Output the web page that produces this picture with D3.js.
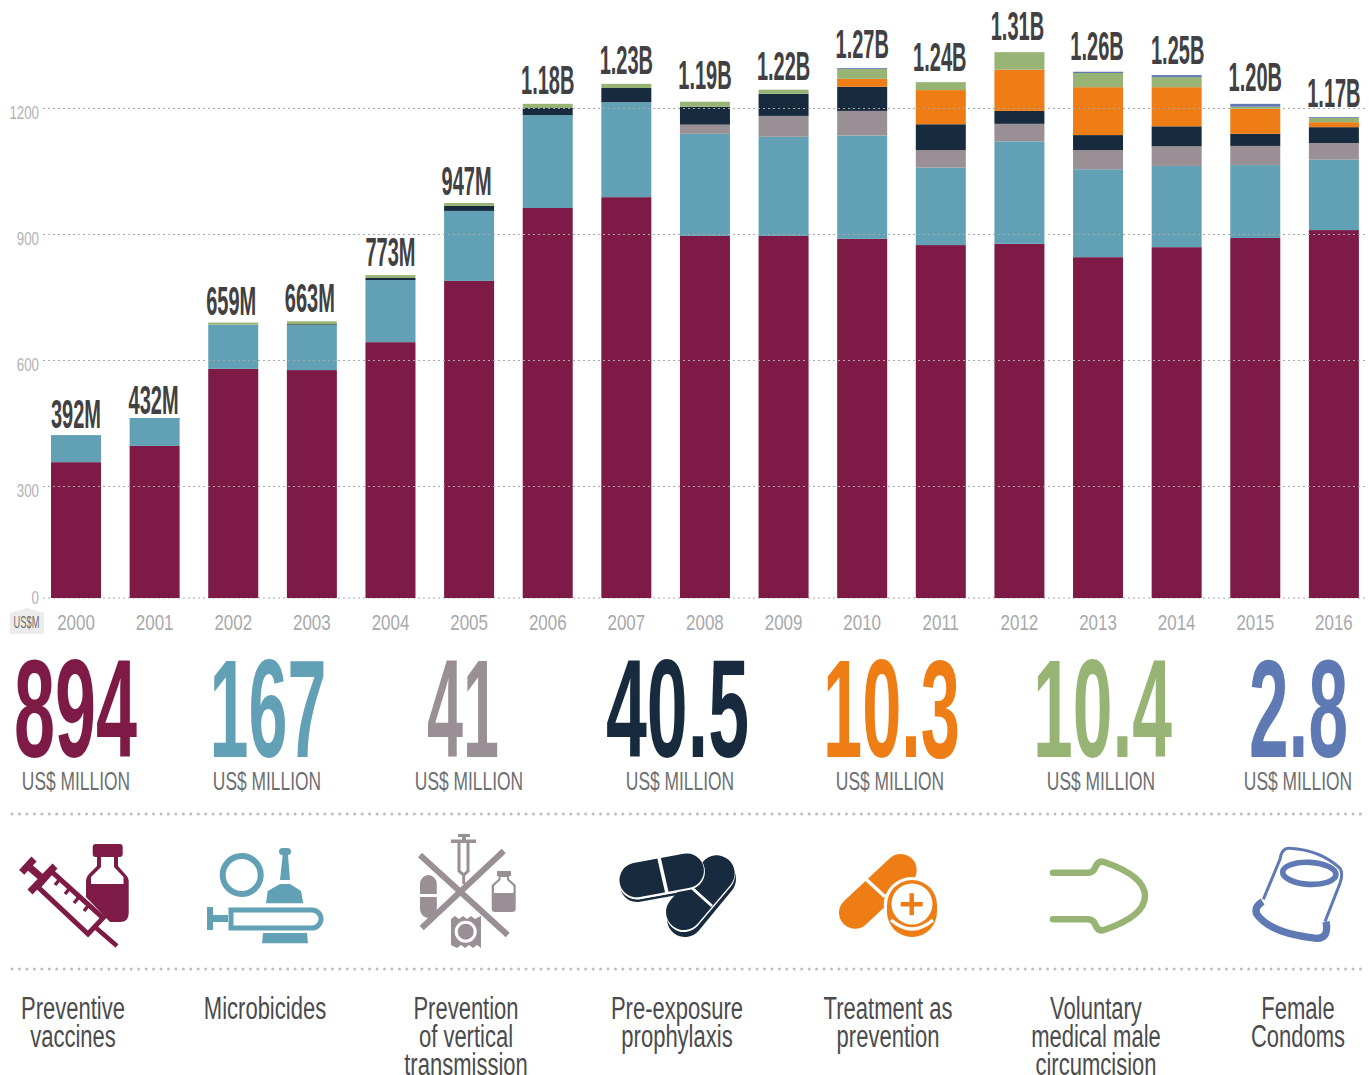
<!DOCTYPE html>
<html>
<head>
<meta charset="utf-8">
<script src="https://cdn.jsdelivr.net/npm/d3@7"></script>
<style>
  html, body { margin: 0; padding: 0; background: #fff; overflow: hidden; }
  svg { display: block; }
  text { font-family: "Liberation Sans Narrow", "Liberation Sans", sans-serif; }
</style>
</head>
<body>
<svg width="1369" height="1075"></svg>
<script>
const years = ['2000','2001','2002','2003','2004','2005','2006','2007','2008','2009','2010','2011','2012','2013','2014','2015','2016'];
const totalLabels = ['392M','432M','659M','663M','773M','947M','1.18B','1.23B','1.19B','1.22B','1.27B','1.24B','1.31B','1.26B','1.25B','1.20B','1.17B'];

// US$ million
const vaccines     = [326,365,550,547,614,761,936,962,869,869,862,847,850,818,842,864,883];
const microbicides = [65,67,106,108,149,168,223,228,245,238,248,186,246,211,195,175,169];
const vertical     = [0,0,0,0,0,0,0,0,22,50,59,42,42,46,47,46,40];
const prep         = [0,0,0,2,5,12,17,34,43,53,58,62,31,36,48,29,38];
const treatment    = [0,0,0,0,0,0,0,0,0,0,19,82,99,115,94,60,12];
const vmmc         = [0,0,5,7,7,7,10,10,12,10,24,19,42,34,24,5,10];
const condoms      = [0,0,0,0,0,0,0,0,0,0,2,0,0,3,5,7,2];

const gridTicks = [0,300,600,900,1200];
const amounts = ['894','167','41','40.5','10.3','10.4','2.8'];
const names = [
  ['Preventive','vaccines'],
  ['Microbicides'],
  ['Prevention','of vertical','transmission'],
  ['Pre-exposure','prophylaxis'],
  ['Treatment as','prevention'],
  ['Voluntary','medical male','circumcision'],
  ['Female','Condoms']
];

const PURPLE = '#7d1a45', BLUE = '#62a1b5', GREY = '#9a8f94', NAVY = '#182b3e',
      ORANGE = '#ee7d15', GREEN = '#98b474', INDIGO = '#5f79b5';
const colors = [PURPLE, BLUE, GREY, NAVY, ORANGE, GREEN, INDIGO];
const seriesKeys = ['vaccines','microbicides','vertical','prep','treatment','vmmc','condoms'];
const seriesValues = [vaccines, microbicides, vertical, prep, treatment, vmmc, condoms];

const svg = d3.select('svg');

// squeeze a text around its x, the fonts here are wider than the original.
// ratio may be a function (text node, index) for texts fitted to a given width
function condense(sel, ratio) {
  sel.each(function(d, i) {
    const t = d3.select(this);
    const r = typeof ratio === 'function' ? ratio(this, i) : ratio;
    const cx = +t.attr('x') || 0;
    t.attr('transform', `translate(${cx * (1 - r)},0) scale(${r},1)`);
  });
}

const rows = years.map((y, i) => {
  const row = {year: y};
  seriesKeys.forEach((k, j) => { row[k] = seriesValues[j][i]; });
  return row;
});
const stacked = d3.stack().keys(seriesKeys)(rows);

const x = d3.scaleBand().domain(years).range([36.7, 1373.2]).paddingInner(0.364).paddingOuter(0.182);
const y = d3.scaleLinear().domain([0, 1200]).range([598, 98]);
// the original's gridlines do not follow the bars: 0 sits closer to 300 than the rest
const gridY = d3.scaleLinear().domain([0, 300, 1200]).range([598, 486, 108]);

// zero line goes behind the bars
svg.append('line').attr('x1', 43).attr('x2', 1365).attr('y1', gridY(0)).attr('y2', gridY(0))
  .attr('stroke', '#a8a8a8').attr('stroke-dasharray', '2,3').attr('stroke-width', 1);

svg.append('g').selectAll('g')
  .data(stacked)
  .join('g')
  .attr('fill', (d, i) => colors[i])
  .selectAll('rect')
  .data(d => d)
  .join('rect')
  .attr('x', d => x(d.data.year))
  .attr('width', x.bandwidth())
  .attr('y', d => y(d[1]))
  .attr('height', d => y(d[0]) - y(d[1]));

// the other gridlines run over the bars
const grid = svg.append('g')
  .attr('transform', 'translate(43,0)')
  .call(d3.axisLeft(gridY).tickValues(gridTicks).tickSize(0).tickFormat(d3.format('d')));
grid.select('.domain').remove();
grid.selectAll('.tick').select('line')
  .attr('x2', d => d === 0 ? 0 : 1322)
  .attr('stroke', '#a8a8a8').attr('stroke-dasharray', '2,3');
grid.selectAll('.tick').select('text')
  .attr('x', -4)
  .attr('dy', d => d === 0 ? 5 : 10)
  .attr('fill', '#b0b2b4')
  .attr('font-size', 18.5)
  .call(condense, 0.72);

const xAxis = svg.append('g')
  .attr('transform', 'translate(0,609)')
  .call(d3.axisBottom(x).tickSize(0).tickPadding(0));
xAxis.select('.domain').remove();
xAxis.selectAll('text')
  .attr('y', 0).attr('dy', 21)
  .attr('fill', '#a7a9ac')
  .attr('font-size', 22)
  .call(condense, 0.77);

// US$M badge
svg.append('path').attr('d', 'M10,613 L27,608 L44,613 V634 H10 Z').attr('fill', '#ececec');
svg.append('text').text('US$M').attr('x', 26.5).attr('y', 628)
  .attr('text-anchor', 'middle').attr('font-size', 16).attr('fill', '#6d6e71')
  .call(condense, 0.58);

// totals above the bars, nudged by hand in the original
const labelLift = [7,4,8,9,9,8,10,10,13,10,10,11,12,12,11,13,10];
const labelNudge = [0,-1,-2,-2,0,-2.5,0,0,0,0,0,-1,-2,-1,1,0,0];
svg.append('g').selectAll('text')
  .data(totalLabels)
  .join('text')
  .text(d => d)
  .attr('x', (d, i) => x(years[i]) + x.bandwidth() / 2 + labelNudge[i])
  .attr('y', (d, i) => y(d3.sum(seriesValues, s => s[i])) - labelLift[i])
  .attr('text-anchor', 'middle')
  .attr('font-size', 40)
  .attr('font-weight', 'bold')
  .attr('fill', '#414042')
  .call(condense, 0.5);

// big figures
const amountX = [75.5, 268, 463, 677.5, 891.5, 1102.5, 1298.5];
const amountW = [123, 117, 72, 143, 137, 139, 99];
const captionX = [76, 267, 469, 680, 890, 1101, 1298];
const nameX = [73, 265, 466, 677, 888, 1096, 1298];

svg.append('g').selectAll('text')
  .data(amounts)
  .join('text')
  .text(d => d)
  .attr('x', (d, i) => amountX[i])
  .attr('y', 757)
  .attr('text-anchor', 'middle')
  .attr('font-size', 139)
  .attr('font-weight', 'bold')
  .attr('fill', (d, i) => colors[i])
  .call(condense, (node, i) => amountW[i] / node.getComputedTextLength());

svg.append('g').selectAll('text')
  .data(amounts)
  .join('text')
  .text('US$ MILLION')
  .attr('x', (d, i) => captionX[i])
  .attr('y', 790)
  .attr('text-anchor', 'middle')
  .attr('font-size', 26.5)
  .attr('fill', '#6d6e71')
  .call(condense, 0.657);

// dotted separators
[814, 969].forEach(yy => {
  svg.append('line').attr('x1', 12).attr('x2', 1362).attr('y1', yy).attr('y2', yy)
    .attr('stroke', '#bdbdbd').attr('stroke-width', 3)
    .attr('stroke-linecap', 'round').attr('stroke-dasharray', '0,7.45');
});

// category names
names.forEach((lines, i) => {
  svg.append('g').selectAll('text')
    .data(lines)
    .join('text')
    .text(d => d)
    .attr('x', nameX[i])
    .attr('y', (d, j) => 1019 + j * 28.2)
    .attr('text-anchor', 'middle')
    .attr('font-size', 31)
    .attr('fill', '#4b4b4d')
    .call(condense, 0.71);
});

// icons, hand traced
function stroke(g, d, color, w, cap) {
  return g.append('path').attr('d', d).attr('fill', 'none').attr('stroke', color)
    .attr('stroke-width', w).attr('stroke-linecap', cap || 'butt');
}
function fill(g, d, color) {
  return g.append('path').attr('d', d).attr('fill', color);
}

// vaccine
const ic1 = svg.append('g');
fill(ic1, 'M97,856 V866 L89,874 Q86,877 86,882 V897 L110,922 H120 Q128.7,922 128.7,913 V882 Q128.7,877 125,874 L118,866 V856 Z', PURPLE);
fill(ic1, 'M101,856 V867 L91,877 V884 H123.5 V877 L114,867 V856 Z', '#fff');
ic1.append('rect').attr('x', 92.7).attr('y', 844).attr('width', 30).attr('height', 13).attr('rx', 3).attr('fill', PURPLE);
fill(ic1, 'M51.7,871.7 L103,918 L88,934 L38,887 Z', '#fff');
stroke(ic1, 'M51.7,871.7 L103,918 L88,934 L38,887 Z', PURPLE, 5);
stroke(ic1, 'M21.7,872.3 L34,859', PURPLE, 7);
stroke(ic1, 'M28,866 L42,878', PURPLE, 7);
stroke(ic1, 'M30,892 L55,866', PURPLE, 7);
stroke(ic1, 'M60,879 L55,885 M70,888 L65,894 M79,897 L74,903 M88,906 L84,911', PURPLE, 3.5);
stroke(ic1, 'M95,927 L117,946', PURPLE, 4.5);

// microbicides
const ic2 = svg.append('g');
ic2.append('circle').attr('cx', 241.7).attr('cy', 875).attr('r', 19).attr('fill', 'none').attr('stroke', BLUE).attr('stroke-width', 6);
ic2.append('rect').attr('x', 279).attr('y', 848).attr('width', 12).attr('height', 7).attr('rx', 3.5).attr('fill', BLUE);
fill(ic2, 'M282.7,855 H288 L290,880 H280 Z', BLUE);
fill(ic2, 'M280,884 H290 L301,891 L303.3,903.3 H266 L267.7,891 Z', BLUE);
stroke(ic2, 'M231,910 H312 A9,9 0 0 1 312,928 H231 Z', BLUE, 5);
ic2.append('rect').attr('x', 207).attr('y', 907).attr('width', 6).attr('height', 23).attr('fill', BLUE);
ic2.append('rect').attr('x', 213).attr('y', 915).attr('width', 15).attr('height', 7).attr('fill', BLUE);
fill(ic2, 'M263,933 H307 L308,943.3 H262 Z', BLUE);

// vertical transmission
const ic3 = svg.append('g');
stroke(ic3, 'M420,855 L507.7,935 M503.7,851 L421.7,928', GREY, 6);
ic3.append('rect').attr('x', 458).attr('y', 834).attr('width', 12).attr('height', 3).attr('fill', GREY);
ic3.append('rect').attr('x', 462).attr('y', 834).attr('width', 4).attr('height', 9).attr('fill', GREY);
ic3.append('rect').attr('x', 451).attr('y', 839.5).attr('width', 25).attr('height', 3.5).attr('fill', GREY);
stroke(ic3, 'M459,843 V871 L463.7,875 L468,871 V843', GREY, 3);
stroke(ic3, 'M463.7,875 V884', GREY, 3);
fill(ic3, 'M420,894 V884 A8.4,9 0 0 1 436.8,884 V894 Z', GREY);
fill(ic3, 'M420,897 V909 A8.4,9 0 0 0 436.8,909 V897 Z', GREY);
fill(ic3, 'M497,871 H511 V876 H509 V879 L515.7,885 V909 Q515.7,912 512,912 H495 Q491.7,912 491.7,909 V885 L498.5,879 V876 H497 Z', GREY);
fill(ic3, 'M500.5,877 H507 V880 L513.5,886 V893 H494 V886 L500.5,880 Z', '#fff');
fill(ic3, 'M451,919 L455,916 L459,919 L463,916 L467,919 L471,916 L475,919 L481,916 V948 L477,945 L473,948 L469,945 L465,948 L461,945 L457,948 L451,945 Z', GREY);
ic3.append('circle').attr('cx', 465.7).attr('cy', 931.7).attr('r', 9.5).attr('fill', GREY).attr('stroke', '#fff').attr('stroke-width', 3);

// PrEP
const ic4 = svg.append('g');
const pill = (g, x1, y1, x2, y2, color, w) => g.append('line')
  .attr('x1', x1).attr('y1', y1).attr('x2', x2).attr('y2', y2)
  .attr('stroke', color).attr('stroke-width', w).attr('stroke-linecap', 'round');
pill(ic4, 637, 885, 687, 876, NAVY, 34);
pill(ic4, 637, 882, 687, 873, '#fff', 35);
pill(ic4, 718, 879, 685, 919, NAVY, 36);
pill(ic4, 717, 875, 684, 914, '#fff', 36);
pill(ic4, 716.7, 873.3, 684, 912, NAVY, 36);
stroke(ic4, 'M692,888 L712,906', '#fff', 3);
pill(ic4, 636.7, 881, 686.7, 871.7, '#fff', 36.5);
pill(ic4, 636.7, 880, 686.7, 870.7, NAVY, 34.5);
stroke(ic4, 'M659,858 L667,893', '#fff', 3.5);

// treatment as prevention
const ic5 = svg.append('g');
pill(ic5, 900.7, 870, 855, 912.7, ORANGE, 32);
stroke(ic5, 'M865,878.3 L885,896.7', '#fff', 3.5);
ic5.append('circle').attr('cx', 911.7).attr('cy', 905).attr('r', 28).attr('fill', '#fff');
ic5.append('rect').attr('x', 887).attr('y', 880).attr('width', 50).attr('height', 57).attr('rx', 25).attr('fill', ORANGE);
ic5.append('circle').attr('cx', 912).attr('cy', 904).attr('r', 20.5).attr('fill', '#fff');
stroke(ic5, 'M891,920 Q912,938 933,920', '#fff', 3.5);
stroke(ic5, 'M900.7,904.3 H922.7 M911.7,893.3 V915.3', ORANGE, 4.5);

// VMMC
const ic6 = svg.append('g');
stroke(ic6, 'M1053,872.7 H1088 Q1093,872.7 1095,868 Q1098,860 1104,862 Q1145,876 1145,896 Q1145,916 1104,930 Q1098,932 1095,924 Q1093,919.3 1088,919.3 H1053', GREEN, 6.5, 'round');

// female condom, traced at 3x
const ic7 = svg.append('g').attr('transform', 'translate(1240,840) scale(0.3333)');
stroke(ic7, 'M70,178 L120,58 Q125,22 150,25 Q240,30 300,85 Q310,100 300,130 L255,245', INDIGO, 9);
stroke(ic7, 'M68,185 Q42,200 50,222 Q90,280 230,295 Q268,295 258,245', INDIGO, 22);
ic7.append('ellipse').attr('cx', 208).attr('cy', 100).attr('rx', 80).attr('ry', 33)
  .attr('transform', 'rotate(3 208 100)')
  .attr('fill', 'none').attr('stroke', INDIGO).attr('stroke-width', 17);
</script>
</body>
</html>
